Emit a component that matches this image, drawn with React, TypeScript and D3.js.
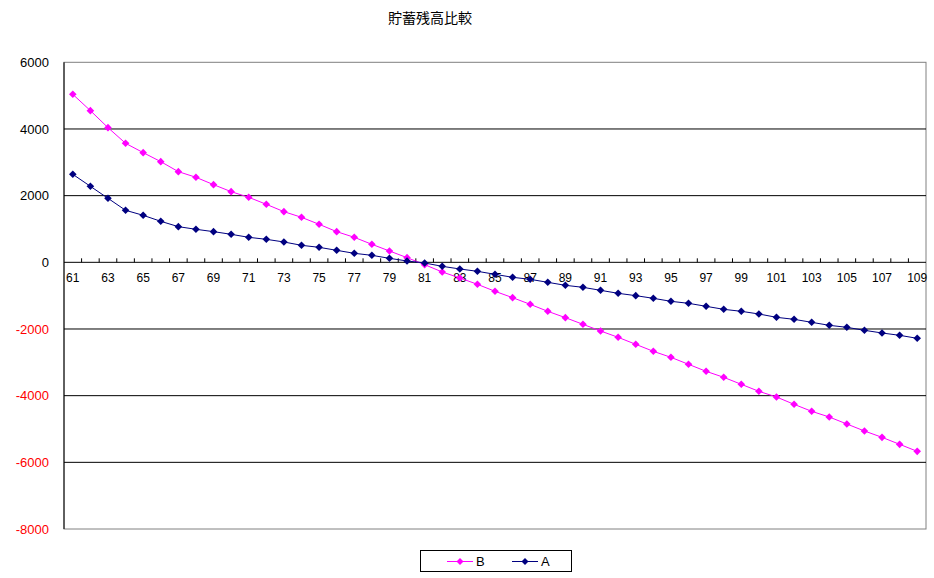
import React from "react";
import * as d3 from "d3";

const categories: number[] = d3.range(61, 110);
const seriesB: number[] = [
  5040, 4550, 4040, 3570, 3290, 3020, 2720, 2550, 2330, 2120,
  1950, 1740, 1520, 1350, 1140, 920, 750, 540, 340, 140,
  -70, -290, -470, -660, -870, -1060, -1260, -1470, -1660, -1860,
  -2060, -2250, -2460, -2670, -2850, -3060, -3270, -3450, -3660, -3870,
  -4040, -4260, -4470, -4640, -4850, -5060, -5250, -5460, -5670,
];
const seriesA: number[] = [
  2640, 2280, 1920, 1560, 1410, 1230, 1070, 990, 920, 840,
  750, 690, 610, 510, 450, 360, 270, 210, 120, 40,
  -20, -120, -200, -270, -360, -450, -510, -600, -690, -750,
  -840, -930, -1000, -1080, -1170, -1230, -1320, -1410, -1470, -1550,
  -1650, -1710, -1800, -1890, -1950, -2040, -2120, -2190, -2280,
];
const yTicks: number[] = [6000, 4000, 2000, 0, -2000, -4000, -6000, -8000];
const title = "貯蓄残高比較";
const seriesNames = ["B", "A"];

const W = 934, H = 578;
const L = 64, R = 926, T = 62.3, B = 529;
const FONT = "'Liberation Sans', Arial, sans-serif";

export default function App() {
  const x = d3.scaleBand<number>().domain(categories).range([L, R]).padding(0);
  const y = d3.scaleLinear().domain([-8000, 6000]).range([B, T]);
  const cx = (c: number) => (x(c) as number) + x.bandwidth() / 2;
  const line = d3.line<number>().x((_, i) => cx(categories[i])).y((d) => y(d));
  const diamond = (px: number, py: number, r: number) =>
    `M${px},${py - r}L${px + r},${py}L${px},${py + r}L${px - r},${py}Z`;
  const series = [
    { name: seriesNames[0], data: seriesB, color: "#FF00FF" },
    { name: seriesNames[1], data: seriesA, color: "#000080" },
  ];
  const y0 = y(0);
  return (
    <svg width={W} height={H} style={{ position: "absolute", left: 0, top: 0, background: "#fff" }}>
      <text x={430} y={23} textAnchor="middle" fontSize={14}
        fontFamily="'Noto Sans CJK JP', sans-serif" fill="#000">{title}</text>
      <rect x={L} y={T} width={R - L} height={B - T} fill="none" stroke="#808080" strokeWidth={1} />
      {yTicks.filter((t) => t !== 6000 && t !== -8000 && t !== 0).map((t) => (
        <line key={t} x1={L} x2={R} y1={y(t)} y2={y(t)} stroke="#000" strokeWidth={1} />
      ))}
      <line x1={L} x2={L} y1={T} y2={B} stroke="#000" strokeWidth={1} />
      <line x1={L} x2={R} y1={y0} y2={y0} stroke="#000" strokeWidth={1} />
      {categories.map((c, i) => (
        <line key={"t" + c} x1={(x(c) as number)} x2={(x(c) as number)} y1={y0} y2={y0 - 4}
          stroke="#000" strokeWidth={1} style={{ display: i === 0 ? "none" : undefined }} />
      ))}
      {yTicks.map((t) => (
        <text key={"yl" + t} x={49} y={y(t)} dy="0.35em" textAnchor="end" fontSize={13}
          fontFamily={FONT} fill={t < 0 ? "#FF0000" : "#000"}>{t}</text>
      ))}
      {categories.filter((_, i) => i % 2 === 0).map((c) => (
        <text key={"xl" + c} x={cx(c)} y={y0 + 20} textAnchor="middle" fontSize={12}
          fontFamily={FONT} fill="#000">{c}</text>
      ))}
      {series.map((s) => (
        <g key={s.name}>
          <path d={line(s.data) as string} fill="none" stroke={s.color} strokeWidth={1} />
          {s.data.map((v, i) => (
            <path key={i} d={diamond(cx(categories[i]), y(v), 3.8)} fill={s.color} />
          ))}
        </g>
      ))}
      <rect x={420.5} y={550.5} width={151} height={21} fill="#fff" stroke="#000" strokeWidth={1} />
      {series.map((s, i) => {
        const lx = 447 + i * 65;
        return (
          <g key={"lg" + s.name}>
            <line x1={lx} x2={lx + 26} y1={561.5} y2={561.5} stroke={s.color} strokeWidth={1} />
            <path d={diamond(lx + 13, 561.5, 3.5)} fill={s.color} />
            <text x={lx + 29} y={561.5} dy="0.35em" fontSize={13} fontFamily={FONT} fill="#000">{s.name}</text>
          </g>
        );
      })}
    </svg>
  );
}
